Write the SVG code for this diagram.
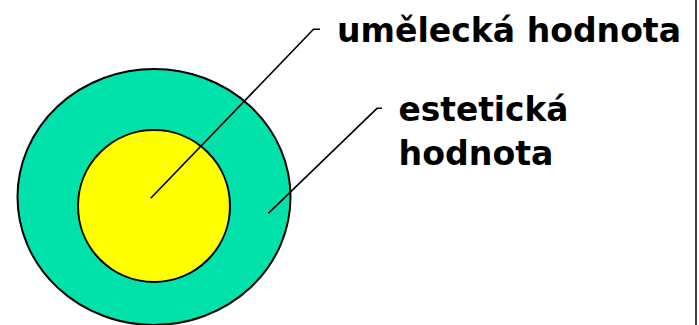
<svg xmlns="http://www.w3.org/2000/svg" width="699" height="325" viewBox="0 0 699 325">
<style>
.t{font-family:"DejaVu Sans",sans-serif;font-weight:bold;font-size:34px;fill:#000}
.c{fill:none;stroke:#000;stroke-width:1.6}
</style>
<rect width="699" height="325" fill="#fff"/>
<line x1="696" y1="0" x2="696" y2="325" stroke="#000" stroke-width="1.5"/>
<g id="outer"><ellipse cx="154" cy="197" rx="136.5" ry="128" fill="#00E2AA" stroke="#000" stroke-width="2"/></g>
<g id="inner"><ellipse cx="154" cy="206" rx="76" ry="76" fill="#FFFF00" stroke="#000" stroke-width="2"/></g>
<g id="connectors">
<polyline class="c" points="150.7,198.3 313.5,29.3 320,29.3"/>
<polyline class="c" points="268.3,213.3 377,108.3 382,108.3"/>
</g>
<g id="label1"><text class="t" x="337" y="41.7" textLength="344" lengthAdjust="spacingAndGlyphs">umělecká hodnota</text></g>
<g id="label2"><text class="t" x="398.5" y="121" textLength="170" lengthAdjust="spacingAndGlyphs">estetická</text>
<text class="t" x="398.5" y="165" textLength="155" lengthAdjust="spacingAndGlyphs">hodnota</text></g>
</svg>
